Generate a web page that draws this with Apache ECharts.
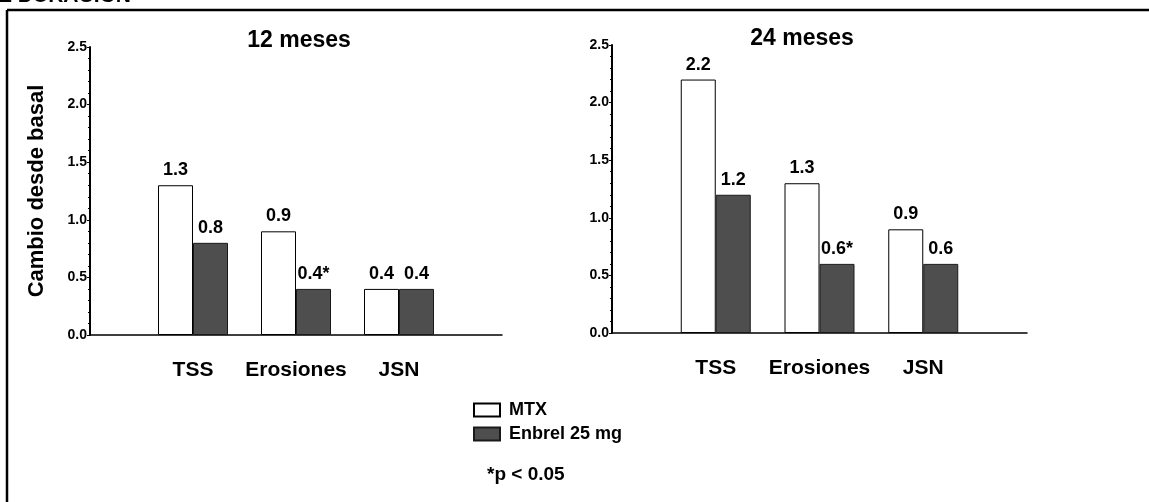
<!DOCTYPE html>
<html>
<head>
<meta charset="utf-8">
<script src="https://cdn.jsdelivr.net/npm/echarts@6/dist/echarts.min.js"></script>
<style>
html,body{margin:0;padding:0;background:#fff;}
#chart{width:1149px;height:502px;}
</style>
</head>
<body>
<div id="chart"></div>
<script>
const categories = ['TSS', 'Erosiones', 'JSN'];
const panelTitles = ['12 meses', '24 meses'];
const seriesNames = ['MTX', 'Enbrel 25 mg'];
const mtx12 = [1.3, 0.9, 0.4];
const enbrel12 = [0.8, 0.4, 0.4];
const mtx24 = [2.2, 1.3, 0.9];
const enbrel24 = [1.2, 0.6, 0.6];
const sigEnbrel12 = [false, true, false];
const sigEnbrel24 = [false, true, false];
const yTicks = [0, 0.5, 1.0, 1.5, 2.0, 2.5];
const yAxisName = 'Cambio desde basal';
const footnote = '*p < 0.05';
const headerText = 'E DURACIÓN';

const FONT = '"Liberation Sans", Arial, Helvetica, sans-serif';
const pad = arr => [null].concat(arr, [null]);
const padCats = [''].concat(categories, ['']);
const sigPad = arr => [false].concat(arr, [false]);

function labelCfg(sig) {
  const flags = sig ? sigPad(sig) : null;
  return {
    show: true, position: 'top', distance: 6,
    color: '#000', fontFamily: FONT, fontWeight: 'bold', fontSize: 18,
    formatter: p => p.value == null ? '' : p.value.toFixed(1) + (flags && flags[p.dataIndex] ? '*' : '')
  };
}

function yAxisCfg(idx, withName) {
  return {
    type: 'value', gridIndex: idx, min: yTicks[0], max: yTicks[yTicks.length - 1], interval: 0.5,
    name: withName ? yAxisName : '', nameLocation: 'middle', nameGap: 42, nameRotate: 90,
    nameTextStyle: { color: '#000', fontFamily: FONT, fontWeight: 'bold', fontSize: 22 },
    axisLine: { show: true, lineStyle: { color: '#000', width: 2 } },
    axisTick: { show: true, length: 3, lineStyle: { color: '#000', width: 1 } },
    minorTick: { show: true, splitNumber: 5, length: 2, lineStyle: { color: '#000' } },
    splitLine: { show: false },
    axisLabel: { color: '#000', fontFamily: FONT, fontWeight: 'bold', fontSize: 14, margin: 3,
      formatter: v => v.toFixed(1) }
  };
}

function xAxisCfg(idx) {
  return {
    type: 'category', gridIndex: idx, data: padCats, boundaryGap: false,
    axisLine: { show: true, lineStyle: { color: '#000', width: 1.5 } },
    axisTick: { show: false },
    axisLabel: { color: '#000', fontFamily: FONT, fontWeight: 'bold', fontSize: 21, margin: 25, interval: 0 }
  };
}

const barBase = { type: 'bar', barWidth: 35, barGap: '0%' };
const mtxStyle = { color: '#ffffff', borderColor: '#000', borderWidth: 1 };
const enbStyle = { color: '#4e4e4e', borderColor: '#1a1a1a', borderWidth: 1 };

const chart = echarts.init(document.getElementById('chart'), null, { renderer: 'canvas' });
chart.setOption({
  animation: false,
  backgroundColor: '#fff',
  title: [
    { text: panelTitles[0], left: 294, top: 24, textAlign: 'center',
      textStyle: { color: '#000', fontFamily: FONT, fontWeight: 'bold', fontSize: 23 } },
    { text: panelTitles[1], left: 797, top: 22, textAlign: 'center',
      textStyle: { color: '#000', fontFamily: FONT, fontWeight: 'bold', fontSize: 23 } }
  ],
  legend: {
    orient: 'vertical', left: 468, top: 396, itemWidth: 26, itemHeight: 13, itemGap: 6,
    icon: 'rect', data: seriesNames, selectedMode: false,
    textStyle: { color: '#000', fontFamily: FONT, fontWeight: 'bold', fontSize: 18, padding: [0, 0, 0, 4] }
  },
  grid: [
    { left: 90, top: 47, width: 412, height: 288 },
    { left: 612, top: 45, width: 415, height: 288 }
  ],
  xAxis: [xAxisCfg(0), xAxisCfg(1)],
  yAxis: [yAxisCfg(0, true), yAxisCfg(1, false)],
  series: [
    Object.assign({}, barBase, { name: seriesNames[0], xAxisIndex: 0, yAxisIndex: 0, data: pad(mtx12), itemStyle: mtxStyle, label: labelCfg(null) }),
    Object.assign({}, barBase, { name: seriesNames[1], xAxisIndex: 0, yAxisIndex: 0, data: pad(enbrel12), itemStyle: enbStyle, label: labelCfg(sigEnbrel12) }),
    Object.assign({}, barBase, { name: seriesNames[0], xAxisIndex: 1, yAxisIndex: 1, data: pad(mtx24), itemStyle: mtxStyle, label: labelCfg(null) }),
    Object.assign({}, barBase, { name: seriesNames[1], xAxisIndex: 1, yAxisIndex: 1, data: pad(enbrel24), itemStyle: enbStyle, label: labelCfg(sigEnbrel24) })
  ],
  graphic: [
    { type: 'line', shape: { x1: 7, y1: 10, x2: 1160, y2: 10 }, style: { stroke: '#000', lineWidth: 2.5 } },
    { type: 'line', shape: { x1: 7, y1: 10, x2: 7, y2: 520 }, style: { stroke: '#000', lineWidth: 2.5 } },
    { type: 'text', x: -2, y: 7, style: { text: headerText, fill: '#000', font: 'bold 21px ' + FONT, textVerticalAlign: 'bottom' } },
    { type: 'text', x: 487, y: 475, style: { text: footnote, fill: '#000', font: 'bold 19px ' + FONT, textVerticalAlign: 'middle' } }
  ]
});
</script>
</body>
</html>
